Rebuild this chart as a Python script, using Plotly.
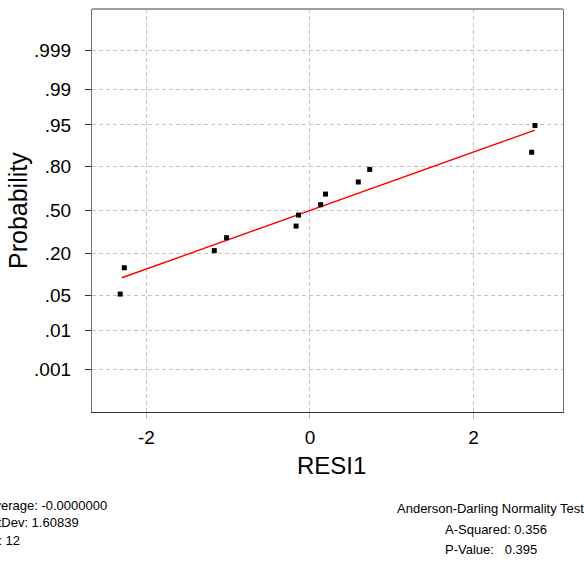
import plotly.graph_objects as go
from statistics import NormalDist

# ---- data ----
resid = [-2.32, -2.27, -1.17, -1.02, -0.17, -0.14, 0.13, 0.19, 0.59, 0.73, 2.71, 2.75]
prob = [0.052, 0.132, 0.216, 0.296, 0.378, 0.461, 0.541, 0.621, 0.706, 0.784, 0.868, 0.949]

fit_x = [-2.30, 2.75]
fit_p = [0.095, 0.939]

prob_ticks = [0.001, 0.01, 0.05, 0.20, 0.50, 0.80, 0.95, 0.99, 0.999]
prob_labels = [".001", ".01", ".05", ".20", ".50", ".80", ".95", ".99", ".999"]
x_ticks = [-2, 0, 2]
x_labels = ["-2", "0", "2"]

stats_left = ["Average: -0.0000000", "StDev: 1.60839", "N: 12"]
stats_right = ["Anderson-Darling Normality Test", "A-Squared: 0.356",
               "P-Value:\u00a0\u00a0 0.395"]

nd = NormalDist()
z = lambda ps: [nd.inv_cdf(p) for p in ps]

SANS = "Liberation Sans, Arial, sans-serif"

fig = go.Figure()
fig.add_trace(go.Scatter(x=fit_x, y=z(fit_p), mode="lines",
                         line=dict(color="#ff0000", width=1.4),
                         hoverinfo="skip", showlegend=False))
fig.add_trace(go.Scatter(x=resid, y=z(prob), mode="markers",
                         marker=dict(symbol="square", size=5, color="black"),
                         showlegend=False))

W, H = 584, 561
L, R, T, B = 92, 563, 9, 412
pw, ph = R - L, B - T


def px(xp):
    return (xp - L) / pw


def py(yp):
    return (B - yp) / ph


fig.update_layout(
    width=W, height=H,
    margin=dict(l=L, r=W - R, t=T, b=H - B),
    paper_bgcolor="white", plot_bgcolor="white",
    font=dict(family=SANS, color="black"),
    xaxis=dict(range=[-2.665, 3.093], tickvals=x_ticks, ticktext=x_labels,
               showgrid=True, gridcolor="#c4c4c4", griddash="4px,3px", gridwidth=1,
               zeroline=False, showline=True, linecolor="#333", linewidth=1.3,
               ticks="outside", ticklen=6, tickcolor="#bbbbbb",
               tickfont=dict(size=19, family=SANS), ticklabelstandoff=2),
    yaxis=dict(range=[-3.907, 3.888], tickvals=z(prob_ticks), ticktext=prob_labels,
               showgrid=True, gridcolor="#c4c4c4", griddash="4px,3px", gridwidth=1,
               zeroline=False, showline=True, linecolor="#707070", linewidth=1.3,
               mirror=True,
               ticks="outside", ticklen=6, tickcolor="#333", tickwidth=1.3,
               tickfont=dict(size=19, family=SANS), ticklabelstandoff=10),
)

fig.add_shape(type="line", xref="paper", yref="paper", x0=0, x1=1, y0=1, y1=1,
              line=dict(color="#808080", width=1.3))

# axis titles
fig.add_annotation(text="Probability", xref="paper", yref="paper",
                   x=px(18), y=py(211), xanchor="center", yanchor="middle",
                   textangle=-90, showarrow=False,
                   font=dict(size=25, family=SANS, color="black"))
fig.add_annotation(text="RESI1", xref="paper", yref="paper",
                   x=px(331), y=py(465), xanchor="center", yanchor="middle",
                   showarrow=False, font=dict(size=24, family=SANS, color="black"))

left_pos = [(-16, 505), (-13, 522.5), (-13, 540)]
for t, (xx, yy) in zip(stats_left, left_pos):
    fig.add_annotation(text=t, xref="paper", yref="paper", x=px(xx), y=py(yy),
                       xanchor="left", yanchor="middle", showarrow=False,
                       font=dict(size=13, family=SANS, color="black"))

right_pos = [(490, 508, "center"), (443, 529.5, "left"), (443, 549, "left")]
for t, (xx, yy, anc) in zip(stats_right, right_pos):
    fig.add_annotation(text=t, xref="paper", yref="paper", x=px(xx), y=py(yy),
                       xanchor=anc, yanchor="middle", showarrow=False,
                       font=dict(size=13, family=SANS, color="black"))

fig.write_html("out.html",
               config={"displayModeBar": False},
               post_script="document.body.style.margin='0px';"
                           "document.body.style.overflow='hidden';")
